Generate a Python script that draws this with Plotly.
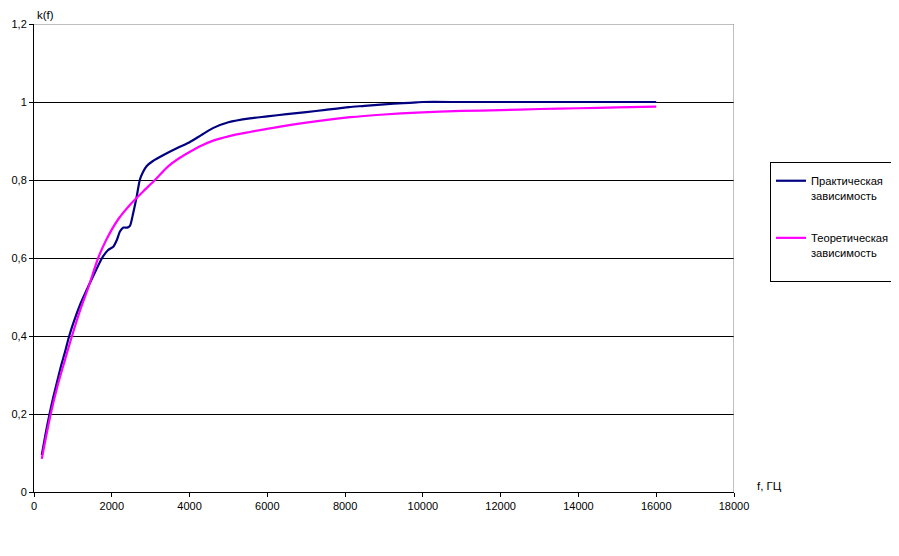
import plotly.graph_objects as go

# Practical dependence (measured)
f_practical = [200, 300, 400, 500, 600, 700, 800, 900, 1000, 1200, 1400, 1600, 1750, 1900, 2040,
               2130, 2210, 2300, 2400, 2470, 2550, 2640, 2720, 2800, 2900, 3050, 3330, 3750, 4000,
               4300, 4600, 5000, 5550, 6000, 6500, 7000, 7500, 8100, 8500, 9000, 9500, 9840,
               10000, 11000, 12000, 13000, 14000, 15000, 16000]
k_practical = [0.095, 0.15, 0.2, 0.245, 0.285, 0.325, 0.36, 0.398, 0.43, 0.484, 0.528, 0.57, 0.6, 0.62, 0.629,
               0.646, 0.668, 0.678, 0.678, 0.683, 0.715, 0.757, 0.8, 0.82, 0.836, 0.848, 0.864, 0.885, 0.897,
               0.915, 0.933, 0.948, 0.958, 0.963, 0.969, 0.974, 0.98, 0.987, 0.99, 0.994, 0.997, 0.999,
               1.0, 1.0, 1.0, 1.0, 1.0, 1.0, 1.0]

# Theoretical dependence
f_theory = [200, 430, 600, 800, 977, 1200, 1400, 1650, 1850, 2170, 2500, 2800, 3110, 3450, 3750, 4000,
            4300, 4610, 5000, 5550, 6330, 7000, 8130, 9000, 9840, 11000, 12000, 13000, 14000, 15000, 16000]
k_theory = [0.085, 0.2, 0.27, 0.34, 0.4, 0.47, 0.525, 0.6, 0.645, 0.7, 0.74, 0.77, 0.8, 0.835, 0.857, 0.872,
            0.888, 0.901, 0.912, 0.923, 0.937, 0.947, 0.961, 0.968, 0.973, 0.977, 0.979, 0.982, 0.984, 0.986, 0.988]

x_ticks = [0, 2000, 4000, 6000, 8000, 10000, 12000, 14000, 16000, 18000]
x_tick_labels = ["0", "2000", "4000", "6000", "8000", "10000", "12000", "14000", "16000", "18000"]
y_ticks = [0, 0.2, 0.4, 0.6, 0.8, 1.0, 1.2]
y_tick_labels = ["0", "0,2", "0,4", "0,6", "0,8", "1", "1,2"]

series_names = ["Практическая<br>зависимость",
                "Теоретическая<br>зависимость<br><span style='font-size:4px'> </span>"]

FONT = "Liberation Sans, Arial, sans-serif"

fig = go.Figure()
fig.add_trace(go.Scatter(x=f_practical, y=k_practical, mode="lines", name=series_names[0],
                         legendgroup="a", line=dict(color="#000080", width=2.2, shape="spline", smoothing=0.6)))
fig.add_trace(go.Scatter(x=f_theory, y=k_theory, mode="lines", name=series_names[1],
                         legendgroup="b", line=dict(color="#FF00FF", width=2.2, shape="spline", smoothing=0.8)))

fig.update_layout(
    width=899, height=556,
    margin=dict(l=26, r=165, t=16, b=72),
    paper_bgcolor="white", plot_bgcolor="white",
    font=dict(family=FONT, size=11, color="black"),
    showlegend=True,
    legend=dict(x=1.0514, y=0.705, xanchor="left", yanchor="top",
                bordercolor="black", borderwidth=1, bgcolor="white",
                font=dict(family=FONT, size=11.2, color="black"),
                title=dict(text=" ", font=dict(size=3)),
                tracegroupgap=25, valign="top", itemwidth=30),
    xaxis=dict(range=[0, 18000], tickvals=x_ticks, ticktext=x_tick_labels, automargin=False,
               showgrid=False, zeroline=False, showline=True, linecolor="black", linewidth=1,
               ticks="outside", ticklen=4, tickcolor="black", tickfont=dict(size=11)),
    yaxis=dict(range=[0, 1.2], tickvals=y_ticks, ticktext=y_tick_labels, automargin=False,
               showgrid=True, gridcolor="black", gridwidth=1, zeroline=False,
               showline=True, linecolor="black", linewidth=1,
               ticks="outside", ticklen=4, tickcolor="black", tickfont=dict(size=11)),
    shapes=[
        dict(type="line", xref="x", yref="y", x0=0, x1=18000, y0=1.2, y1=1.2,
             line=dict(color="#808080", width=1), layer="above"),
        dict(type="line", xref="x", yref="y", x0=18000, x1=18000, y0=0, y1=1.2,
             line=dict(color="#808080", width=1), layer="above"),
    ],
    annotations=[
        dict(text="k(f)", xref="paper", yref="paper", x=0.003, y=1.0, yshift=2, borderpad=0,
             xanchor="left", yanchor="bottom", showarrow=False, font=dict(size=11.5)),
        dict(text="f, ГЦ", xref="paper", yref="paper", x=1.03, y=0.0, yshift=-2,
             xanchor="left", yanchor="bottom", showarrow=False, font=dict(size=11.5)),
    ],
)

fig.write_html("out.html")
